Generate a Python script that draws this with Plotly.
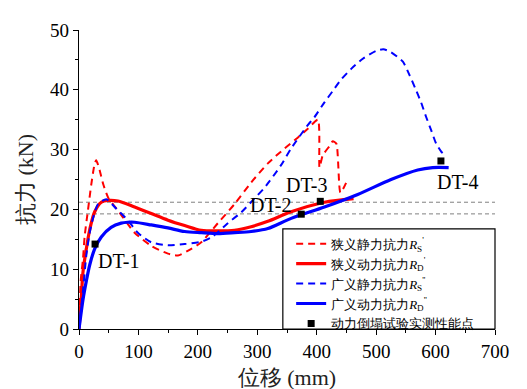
import plotly.graph_objects as go

# ---------------- data ----------------
rs1_x = [0, 2.8, 6.7, 9.5, 15, 20.7, 26.5, 29, 34.6, 40.8, 49, 65.6, 93.6, 121.6, 149.7, 166.5,
         189, 205.7, 233.7, 261.8, 289.7, 317.8, 346, 368, 385, 402, 404.7, 410, 421.5, 427,
         433, 440, 452]
rs1_y = [0, 8, 11.7, 15.5, 19.8, 24.2, 27.7, 28.2, 26.6, 24.2, 22.0, 19.8, 16.1, 13.9, 12.6, 12.3,
         13.4, 14.5, 17.7, 20.9, 24.5, 27.7, 30.2, 32.0, 33.5, 35.0, 27.0, 29.0, 30.6, 31.4,
         31.0, 22.8, 25.0]

rd1_x = [0, 3.9, 6.7, 12.3, 18, 26.4, 37.5, 48.8, 65.6, 93.6, 121.6, 149.7, 177.7, 205.7,
         233.7, 261.8, 289.7, 317.8, 357, 413, 462]
rd1_y = [0, 5.3, 9.5, 13.4, 16.6, 19.6, 21.2, 21.5, 21.4, 20.4, 19.3, 18.2, 17.3, 16.5,
         16.4, 16.5, 17.1, 18.0, 19.6, 21.2, 21.8]

rs2_x = [0, 6.7, 12.3, 18, 23.5, 32, 46, 62.8, 82, 99, 121.6, 149.7, 177.7, 205.7, 222.5,
         250.5, 273, 295, 312, 340, 357, 385, 396, 413, 427, 441, 458, 477.6, 500, 512, 525,
         545, 556, 565.6, 575.6, 584, 592.4, 601, 610, 617]
rs2_y = [0, 6.4, 12.3, 16.1, 18.5, 20.9, 21.7, 20.1, 18.2, 16.1, 14.5, 14.0, 14.2, 14.6, 15.3,
         17.7, 19.5, 21.8, 23.6, 27.4, 30.2, 34.1, 35.4, 37.9, 39.8, 41.7, 43.5, 45.2, 46.5,
         46.8, 46.3, 44.7, 42.5, 40.3, 37.9, 35.5, 33.3, 31.0, 29.6, 29.0]

rd2_x = [0, 6.7, 12.3, 18, 26.4, 37.5, 54, 71, 82, 93.6, 121.6, 149.7, 177.7, 205.7, 233.7,
         261.8, 289.7, 317.8, 357, 413, 469, 525, 570, 595, 622]
rd2_y = [0, 4.9, 8.0, 10.7, 13.4, 15.4, 17.0, 17.7, 17.85, 17.85, 17.4, 16.9, 16.3, 16.1, 15.95,
         16.1, 16.3, 16.8, 18.5, 20.4, 22.5, 25.0, 26.6, 27.0, 27.0]

test_names = ["DT-1", "DT-2", "DT-3", "DT-4"]
test_x = [27, 374, 406, 609]
test_y = [14.2, 19.2, 21.35, 28.1]

ref_levels = [21.2, 19.25]

x_ticks = [0, 100, 200, 300, 400, 500, 600, 700]
y_ticks = [0, 10, 20, 30, 40, 50]

# ---------------- figure ----------------
FONT = "Liberation Serif, Times New Roman, serif"
RED = "#ff0000"
BLUE = "#0000ff"

fig = go.Figure()

fig.add_trace(go.Scatter(x=rs1_x, y=rs1_y, mode="lines", name="狭义静力抗力<i>R</i><sub>S</sub><sup>'</sup>",
                         line=dict(color=RED, width=2, dash="7px,5px", shape="spline", smoothing=0.6)))
fig.add_trace(go.Scatter(x=rd1_x, y=rd1_y, mode="lines", name="狭义动力抗力<i>R</i><sub>D</sub><sup>'</sup>",
                         line=dict(color=RED, width=3.2, shape="spline", smoothing=0.8)))
fig.add_trace(go.Scatter(x=rs2_x, y=rs2_y, mode="lines", name="广义静力抗力<i>R</i><sub>S</sub><sup>''</sup>",
                         line=dict(color=BLUE, width=2, dash="7px,5px", shape="spline", smoothing=0.6)))
fig.add_trace(go.Scatter(x=rd2_x, y=rd2_y, mode="lines", name="广义动力抗力<i>R</i><sub>D</sub><sup>''</sup>",
                         line=dict(color=BLUE, width=3.2, shape="spline", smoothing=0.8)))
fig.add_trace(go.Scatter(x=test_x, y=test_y, mode="markers", name="动力倒塌试验实测性能点",
                         marker=dict(symbol="square", size=7, color="black")))

for lv in ref_levels:
    fig.add_hline(y=lv, line=dict(color="#808080", width=1, dash="4px,3px"), layer="below")

label_pos = {
    "DT-1": dict(xanchor="left", xshift=1, yshift=-17),
    "DT-2": dict(xanchor="right", xshift=-8, yshift=9),
    "DT-3": dict(xanchor="center", xshift=-14, yshift=16),
    "DT-4": dict(xanchor="left", xshift=-6, yshift=-21),
}
for n, xx, yy in zip(test_names, test_x, test_y):
    fig.add_annotation(x=xx, y=yy, text=n, showarrow=False, yanchor="middle",
                       font=dict(family=FONT, size=20, color="black"), **label_pos[n])

fig.add_shape(type="rect", xref="paper", yref="paper", x0=0.49, x1=1.0, y0=0.0, y1=0.335,
              line=dict(color="black", width=1.2), fillcolor="white", layer="below")

axis_common = dict(showgrid=False, zeroline=False, showline=True, linecolor="black", linewidth=1.3,
                   ticks="outside", ticklen=5, tickwidth=1.2, tickcolor="black",
                   tickfont=dict(family=FONT, size=19, color="black"))

fig.update_layout(
    width=527, height=389,
    margin=dict(l=71, r=40, t=20, b=60),
    plot_bgcolor="white", paper_bgcolor="white",
    font=dict(family=FONT, color="black"),
    xaxis=dict(range=[0, 700], tickvals=x_ticks, **axis_common,
               minor=dict(dtick=50, ticklen=3, tickwidth=1, tickcolor="black", ticks="outside"),
               title=dict(text="位移 (mm)", font=dict(family=FONT, size=22, color="#222"), standoff=8)),
    yaxis=dict(range=[0, 50], tickvals=y_ticks, **axis_common,
               minor=dict(dtick=5, ticklen=3, tickwidth=1, tickcolor="black", ticks="outside"),
               title=dict(text="抗力 (kN)", font=dict(family=FONT, size=22, color="#222"), standoff=10)),
    xaxis2=dict(range=[0, 700], overlaying="x", side="top", showline=True, linecolor="black", linewidth=1.3,
                ticks="inside", ticklen=4, tickwidth=1, tickcolor="black", dtick=50, tick0=0,
                showticklabels=False, showgrid=False, zeroline=False, anchor="y"),
    yaxis2=dict(range=[0, 50], overlaying="y", side="right", showline=True, linecolor="black", linewidth=1.3,
                ticks="inside", ticklen=4, tickwidth=1, tickcolor="black", dtick=5, tick0=0,
                showticklabels=False, showgrid=False, zeroline=False, anchor="x"),
    showlegend=True,
    legend=dict(x=0.51, y=0.335, xanchor="left", yanchor="top", bgcolor="rgba(0,0,0,0)",
                borderwidth=0, font=dict(family=FONT, size=13, color="black"),
                tracegroupgap=0, itemwidth=30),
)

fig.write_html("out.html")
